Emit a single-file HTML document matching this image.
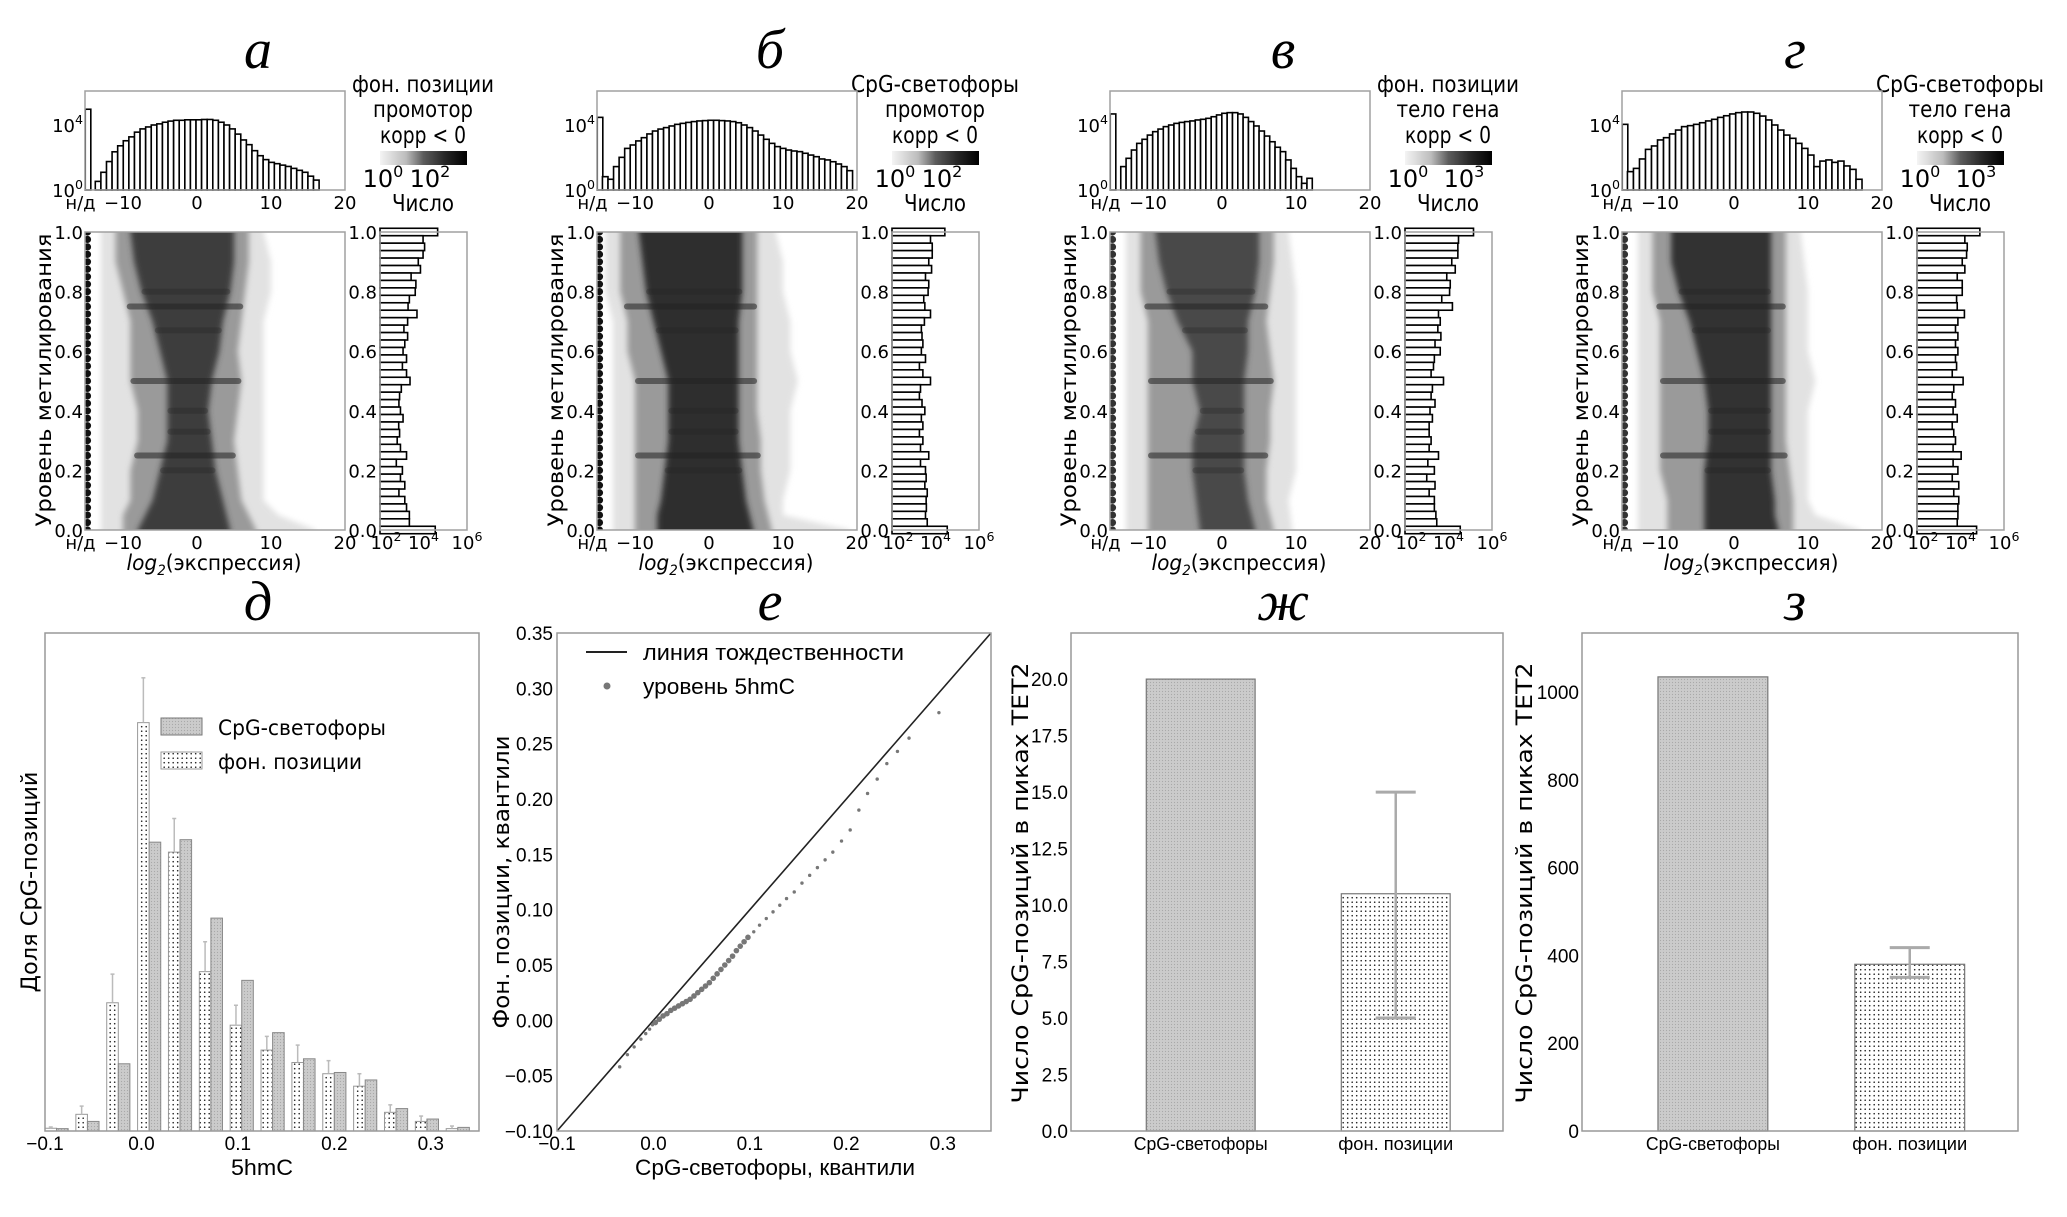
<!DOCTYPE html>
<html><head><meta charset="utf-8">
<style>
html,body{margin:0;padding:0;background:#fff;}
svg{display:block;}
.dj{font-family:"DejaVu Sans","Liberation Sans",sans-serif;}
.nr{font-family:"Liberation Sans Narrow","Liberation Sans",sans-serif;font-stretch:condensed;}
.ttl{font-family:"Liberation Serif",serif;font-style:italic;font-size:56px;}
</style></head>
<body>
<svg id="fig" width="2067" height="1217" viewBox="0 0 2067 1217" xmlns="http://www.w3.org/2000/svg">
<defs>
<filter id="blur" x="-10%" y="-10%" width="120%" height="120%"><feGaussianBlur stdDeviation="3"/></filter>
<linearGradient id="cmap" x1="0" x2="1" y1="0" y2="0">
<stop offset="0" stop-color="#f4f4f4"/><stop offset="0.3" stop-color="#bcbcbc"/><stop offset="0.5" stop-color="#5c5c5c"/><stop offset="0.75" stop-color="#262626"/><stop offset="1" stop-color="#000"/>
</linearGradient>
<pattern id="dots" width="4.5" height="4.5" patternUnits="userSpaceOnUse"><rect width="4.5" height="4.5" fill="#fff"/><circle cx="2.2" cy="2.2" r="0.8" fill="#222"/></pattern>
<pattern id="grayp" width="3" height="3" patternUnits="userSpaceOnUse"><rect width="3" height="3" fill="#cbcbcb"/><circle cx="1.5" cy="1.5" r="0.6" fill="#a8a8a8"/></pattern>
</defs>

<g>
<text class="ttl" x="258" y="68" text-anchor="middle">а</text>
<text class="dj" x="423" y="92" font-size="23" text-anchor="middle" textLength="142" lengthAdjust="spacingAndGlyphs">фон. позиции</text>
<text class="dj" x="423" y="117" font-size="23" text-anchor="middle" textLength="100" lengthAdjust="spacingAndGlyphs">промотор</text>
<text class="dj" x="423" y="143" font-size="23" text-anchor="middle" textLength="86" lengthAdjust="spacingAndGlyphs">корр &lt; 0</text>
<text class="dj" x="383" y="187" font-size="24" text-anchor="middle">10<tspan dy="-10" font-size="16">0</tspan></text>
<text class="dj" x="430" y="187" font-size="24" text-anchor="middle">10<tspan dy="-10" font-size="16">2</tspan></text>
<text class="dj" x="423" y="211" font-size="23" text-anchor="middle" textLength="62" lengthAdjust="spacingAndGlyphs">Число</text>
<text class="dj" transform="translate(51,380) rotate(-90)" font-size="21" text-anchor="middle" textLength="293" lengthAdjust="spacingAndGlyphs">Уровень метилирования</text>
<text class="dj" x="214" y="570" font-size="21" text-anchor="middle" textLength="175" lengthAdjust="spacingAndGlyphs"><tspan font-style="italic">log</tspan><tspan font-size="14" dy="5" font-style="italic">2</tspan><tspan dy="-5">(экспрессия)</tspan></text>
</g>
<g>
<text class="ttl" x="770" y="68" text-anchor="middle">б</text>
<text class="dj" x="935" y="92" font-size="23" text-anchor="middle" textLength="168" lengthAdjust="spacingAndGlyphs">CpG-светофоры</text>
<text class="dj" x="935" y="117" font-size="23" text-anchor="middle" textLength="100" lengthAdjust="spacingAndGlyphs">промотор</text>
<text class="dj" x="935" y="143" font-size="23" text-anchor="middle" textLength="86" lengthAdjust="spacingAndGlyphs">корр &lt; 0</text>
<text class="dj" x="895" y="187" font-size="24" text-anchor="middle">10<tspan dy="-10" font-size="16">0</tspan></text>
<text class="dj" x="942" y="187" font-size="24" text-anchor="middle">10<tspan dy="-10" font-size="16">2</tspan></text>
<text class="dj" x="935" y="211" font-size="23" text-anchor="middle" textLength="62" lengthAdjust="spacingAndGlyphs">Число</text>
<text class="dj" transform="translate(563,380) rotate(-90)" font-size="21" text-anchor="middle" textLength="293" lengthAdjust="spacingAndGlyphs">Уровень метилирования</text>
<text class="dj" x="726" y="570" font-size="21" text-anchor="middle" textLength="175" lengthAdjust="spacingAndGlyphs"><tspan font-style="italic">log</tspan><tspan font-size="14" dy="5" font-style="italic">2</tspan><tspan dy="-5">(экспрессия)</tspan></text>
</g>
<g>
<text class="ttl" x="1283" y="68" text-anchor="middle">в</text>
<text class="dj" x="1448" y="92" font-size="23" text-anchor="middle" textLength="142" lengthAdjust="spacingAndGlyphs">фон. позиции</text>
<text class="dj" x="1448" y="117" font-size="23" text-anchor="middle" textLength="103" lengthAdjust="spacingAndGlyphs">тело гена</text>
<text class="dj" x="1448" y="143" font-size="23" text-anchor="middle" textLength="86" lengthAdjust="spacingAndGlyphs">корр &lt; 0</text>
<text class="dj" x="1408" y="187" font-size="24" text-anchor="middle">10<tspan dy="-10" font-size="16">0</tspan></text>
<text class="dj" x="1464" y="187" font-size="24" text-anchor="middle">10<tspan dy="-10" font-size="16">3</tspan></text>
<text class="dj" x="1448" y="211" font-size="23" text-anchor="middle" textLength="62" lengthAdjust="spacingAndGlyphs">Число</text>
<text class="dj" transform="translate(1076,380) rotate(-90)" font-size="21" text-anchor="middle" textLength="293" lengthAdjust="spacingAndGlyphs">Уровень метилирования</text>
<text class="dj" x="1239" y="570" font-size="21" text-anchor="middle" textLength="175" lengthAdjust="spacingAndGlyphs"><tspan font-style="italic">log</tspan><tspan font-size="14" dy="5" font-style="italic">2</tspan><tspan dy="-5">(экспрессия)</tspan></text>
</g>
<g>
<text class="ttl" x="1795" y="68" text-anchor="middle">г</text>
<text class="dj" x="1960" y="92" font-size="23" text-anchor="middle" textLength="168" lengthAdjust="spacingAndGlyphs">CpG-светофоры</text>
<text class="dj" x="1960" y="117" font-size="23" text-anchor="middle" textLength="103" lengthAdjust="spacingAndGlyphs">тело гена</text>
<text class="dj" x="1960" y="143" font-size="23" text-anchor="middle" textLength="86" lengthAdjust="spacingAndGlyphs">корр &lt; 0</text>
<text class="dj" x="1920" y="187" font-size="24" text-anchor="middle">10<tspan dy="-10" font-size="16">0</tspan></text>
<text class="dj" x="1976" y="187" font-size="24" text-anchor="middle">10<tspan dy="-10" font-size="16">3</tspan></text>
<text class="dj" x="1960" y="211" font-size="23" text-anchor="middle" textLength="62" lengthAdjust="spacingAndGlyphs">Число</text>
<text class="dj" transform="translate(1588,380) rotate(-90)" font-size="21" text-anchor="middle" textLength="293" lengthAdjust="spacingAndGlyphs">Уровень метилирования</text>
<text class="dj" x="1751" y="570" font-size="21" text-anchor="middle" textLength="175" lengthAdjust="spacingAndGlyphs"><tspan font-style="italic">log</tspan><tspan font-size="14" dy="5" font-style="italic">2</tspan><tspan dy="-5">(экспрессия)</tspan></text>
</g>

<g>
<text class="ttl" x="258" y="620" text-anchor="middle">д</text>
<text class="ttl" x="770" y="620" text-anchor="middle">е</text>
<text class="ttl" x="1283" y="620" text-anchor="middle">ж</text>
<text class="ttl" x="1795" y="620" text-anchor="middle">з</text>
<text class="dj" transform="translate(37,882) rotate(-90)" font-size="22" text-anchor="middle" textLength="221" lengthAdjust="spacingAndGlyphs">Доля CpG-позиций</text>
<text class="nr" x="262" y="1175" font-size="22" text-anchor="middle" textLength="62" lengthAdjust="spacingAndGlyphs">5hmC</text>
<text class="dj" transform="translate(509,882) rotate(-90)" font-size="22" text-anchor="middle" textLength="293" lengthAdjust="spacingAndGlyphs">Фон. позиции, квантили</text>
<text class="nr" x="775" y="1175" font-size="22" text-anchor="middle" textLength="280" lengthAdjust="spacingAndGlyphs">CpG-светофоры, квантили</text>
<text class="dj" transform="translate(1028,883) rotate(-90)" font-size="22" text-anchor="middle" textLength="441" lengthAdjust="spacingAndGlyphs">Число CpG-позиций в пиках TET2</text>
<text class="dj" transform="translate(1532,883) rotate(-90)" font-size="22" text-anchor="middle" textLength="441" lengthAdjust="spacingAndGlyphs">Число CpG-позиций в пиках TET2</text>
<rect x="161" y="718" width="41" height="17" fill="url(#grayp)" stroke="#777"/>
<text class="dj" x="218" y="735" font-size="21" textLength="168" lengthAdjust="spacingAndGlyphs">CpG-светофоры</text>
<rect x="161" y="752" width="41" height="17" fill="url(#dots)" stroke="#999"/>
<text class="dj" x="218" y="769" font-size="21" textLength="144" lengthAdjust="spacingAndGlyphs">фон. позиции</text>
<line x1="586" y1="652" x2="627" y2="652" stroke="#222" stroke-width="2"/>
<text class="nr" x="643" y="660" font-size="22" textLength="261" lengthAdjust="spacingAndGlyphs">линия тождественности</text>
<circle cx="607" cy="686" r="3.5" fill="#777"/>
<text class="nr" x="643" y="694" font-size="22" textLength="152" lengthAdjust="spacingAndGlyphs">уровень 5hmC</text>
</g>
<g id="marks"></g>
</svg>

<script>
const histA=[0,0.53,1.09,1.75,2.35,2.72,3.03,3.27,3.56,3.76,3.88,4.0,4.07,4.17,4.24,4.29,4.29,4.32,4.32,4.32,4.34,4.34,4.29,4.17,4.0,3.76,3.44,3.08,2.79,2.42,2.11,1.87,1.70,1.62,1.53,1.45,1.33,1.21,1.09,0.85,0.61];
const histB=[0.82,0.66,1.44,2.01,2.56,2.77,3.02,3.22,3.45,3.63,3.75,3.84,3.94,4.04,4.10,4.16,4.21,4.25,4.27,4.29,4.29,4.27,4.25,4.21,4.14,4.0,3.84,3.63,3.38,3.12,2.87,2.67,2.56,2.46,2.40,2.36,2.26,2.15,2.05,1.91,1.85,1.74,1.6,1.44,1.19];
const histC=[0,1.44,1.95,2.46,2.87,3.12,3.38,3.59,3.75,3.90,4.0,4.10,4.16,4.21,4.25,4.31,4.35,4.41,4.51,4.62,4.72,4.76,4.76,4.68,4.47,4.21,3.94,3.63,3.32,2.97,2.63,2.36,1.85,1.33,0.82,0.41,0.72];
const histG=[1.13,1.33,1.91,2.50,2.71,3.08,3.22,3.45,3.69,3.90,3.96,4.04,4.14,4.25,4.35,4.47,4.57,4.68,4.76,4.80,4.80,4.72,4.55,4.31,4.0,3.69,3.38,3.18,2.87,2.56,2.15,1.44,1.78,1.85,1.70,1.78,1.48,1.27,0.66];
const histRangeA=[-14.5,16.5], histRangeB=[-14.4,19.4], histRangeC=[-14.4,12.2], histRangeG=[-14.4,17.3];
const ndTop=[4.97,4.47,4.68,4.04];
const rightA=[4.65,3.98,4.05,3.98,3.76,3.86,3.43,3.65,3.62,3.35,3.29,3.70,3.27,3.10,3.27,3.14,3.06,3.22,3.03,3.22,3.38,2.98,2.90,2.87,2.94,3.06,2.86,2.90,2.79,2.94,3.22,2.75,3.03,2.94,3.14,2.87,3.14,3.22,3.35,3.35,4.54];
const rightB=[4.43,3.77,3.85,3.85,3.69,3.82,3.54,3.69,3.66,3.46,3.51,3.77,3.49,3.35,3.38,3.42,3.35,3.54,3.26,3.42,3.77,3.31,3.26,3.38,3.51,3.35,3.42,3.26,3.42,3.31,3.69,3.31,3.54,3.57,3.51,3.62,3.57,3.58,3.54,3.62,4.54];
const rightC=[5.15,4.46,4.43,4.43,4.15,4.31,3.92,4.08,4.05,3.69,4.18,3.54,3.62,3.51,3.65,3.38,3.62,3.35,3.31,3.20,3.77,3.26,3.20,3.38,3.15,3.26,3.11,3.11,3.20,3.11,3.54,3.05,3.35,3.00,3.38,3.11,3.35,3.35,3.42,3.46,4.54];
const rightG=[4.89,4.20,4.31,4.28,4.08,4.20,3.85,4.08,4.08,3.82,3.85,4.18,3.88,3.77,3.88,3.77,3.88,3.77,3.82,3.62,4.12,3.69,3.62,3.77,3.66,3.85,3.62,3.69,3.77,3.66,4.03,3.66,3.88,3.62,3.92,3.69,3.92,3.88,3.88,3.85,4.74];
const profA=[[0,-13,-10,-8,4.5,8,16],[0.05,-13,-10,-7,4,7,11],[0.1,-13,-9,-6,3.5,6,9],[0.2,-13,-9,-5,2.5,5.5,9],[0.3,-13,-8,-4,2,5,9],[0.4,-13,-8,-4,1.5,5.5,9],[0.5,-13,-9,-4,2,6,9],[0.6,-13,-9,-5,3,5.5,9],[0.7,-13,-9,-6,3.5,6,9],[0.8,-13,-10,-7.5,4.5,6.5,10],[0.9,-13,-11,-8.5,5,7,10],[1,-13,-11,-9,5,7,9]];
const profB=[[0,-13,-10,-7,6,8.5,19],[0.05,-13,-10,-7,5.5,8,10],[0.1,-13,-10,-6.5,5,7.5,10],[0.2,-13,-10,-6,4.5,7,11],[0.3,-13,-10,-5.5,4,7,11],[0.4,-13,-10,-5.5,4,6.5,11],[0.5,-13,-10,-5.5,4,6.5,12],[0.6,-13,-11,-6.5,4,6.5,11],[0.7,-13,-11,-7.5,4,6.5,11],[0.8,-14,-12,-8.5,4.5,6.5,10],[0.9,-14,-12,-9,4.5,6.5,10],[1,-14,-12,-9.5,4.5,6.5,9]];
const profC=[[0,-13,-10,-3,4.5,7,9.5],[0.1,-13,-10,-3.5,3.5,6,9],[0.2,-13,-10,-4,3,6,10],[0.3,-13,-10,-4,3,6.5,10],[0.4,-13,-10,-3,3,6.5,10],[0.5,-13,-10,-4,3,7,10],[0.6,-13,-10,-4,3.5,6.5,10],[0.7,-13,-10,-6,3.5,6,10],[0.8,-13,-11,-7.5,4.5,6.5,10],[0.9,-13,-11,-8.5,5,7,9.5],[1,-13,-11,-9,5,7,9]];
const profG=[[0,-13,-9,-4,6,8,17],[0.05,-13,-9,-4,5.5,8,11],[0.1,-13,-9,-4,5.5,8,10],[0.2,-13,-10,-4,5,7.5,10],[0.3,-13,-10,-3.5,5,7,10],[0.4,-13,-10,-3.5,5,7,10],[0.5,-13,-10,-4,5,7,11],[0.6,-13,-10,-5,5,7,10],[0.7,-13,-10,-6,5,7,10],[0.8,-13,-11,-7.5,5,7,10],[0.9,-13,-11,-8.5,5,7,9.5],[1,-13,-11,-8.5,5,7,9]];
const coreColor=["#3c3c3c","#2e2e2e","#484848","#333333"];
const stripeLevels=[0.2,0.25,0.33,0.4,0.5,0.67,0.75,0.8];
const xTickVals=[-10,0,10,20], xTickLabels=["−10","0","10","20"];
const mTickVals=[0,0.2,0.4,0.6,0.8,1.0], mTickLabels=["0.0","0.2","0.4","0.6","0.8","1.0"];
const rTickVals=[2,4,6];

const dBins=[-0.1,-0.068,-0.036,-0.004,0.028,0.06,0.092,0.124,0.156,0.188,0.22,0.252,0.284,0.316];
const dBg=[0.22,1.34,10.3,32.8,22.4,12.8,8.5,6.5,5.5,4.6,3.6,1.5,0.77,0.19];
const dCpg=[0.19,0.77,5.4,23.2,23.4,17.1,12.1,7.9,5.8,4.7,4.1,1.8,0.96,0.29];
const dBgErr=[0.32,2.0,12.6,36.4,25.1,15.2,10.1,7.6,6.9,5.65,4.6,2.1,1.2,0.4];
const dTicks=[-0.1,0,0.1,0.2,0.3], dTickLabels=["−0.1","0.0","0.1","0.2","0.3"];
const qX=[-0.035,-0.027,-0.02,-0.013,-0.008,-0.004,-0.001,0.002,0.006,0.010,0.014,0.018,0.022,0.026,0.030,0.034,0.038,0.042,0.046,0.050,0.054,0.058,0.062,0.066,0.070,0.074,0.078,0.082,0.086,0.090,0.094,0.098,0.104,0.110,0.117,0.124,0.131,0.138,0.146,0.154,0.162,0.170,0.178,0.186,0.195,0.204,0.213,0.222,0.232,0.242,0.253,0.265,0.296];
const qY=[-0.042,-0.031,-0.024,-0.017,-0.012,-0.008,-0.004,-0.002,0.001,0.004,0.006,0.009,0.011,0.013,0.015,0.017,0.019,0.022,0.025,0.028,0.031,0.034,0.038,0.042,0.046,0.050,0.054,0.058,0.063,0.067,0.071,0.075,0.080,0.086,0.092,0.098,0.104,0.110,0.116,0.124,0.131,0.138,0.145,0.152,0.162,0.172,0.190,0.205,0.218,0.232,0.243,0.255,0.278];
const eTicks=[-0.1,-0.05,0,0.05,0.1,0.15,0.2,0.25,0.3,0.35], eTickLabels=["−0.10","−0.05","0.00","0.05","0.10","0.15","0.20","0.25","0.30","0.35"];
const eXTicks=[-0.1,0,0.1,0.2,0.3], eXTickLabels=["−0.1","0.0","0.1","0.2","0.3"];
const categories=["CpG-светофоры","фон. позиции"];
const zhValues=[20,10.5], zhErrLo=[null,5], zhErrHi=[null,15];
const zhTicks=[0,2.5,5,7.5,10,12.5,15,17.5,20], zhTickLabels=["0.0","2.5","5.0","7.5","10.0","12.5","15.0","17.5","20.0"];
const zValues=[1035,380], zErrLo=[null,350], zErrHi=[null,418];
const zTicks=[0,200,400,600,800,1000], zTickLabels=["0","200","400","600","800","1000"];

const NS="http://www.w3.org/2000/svg";
const root=document.getElementById('marks');
function el(tag,attrs,parent){const e=document.createElementNS(NS,tag);for(const k in attrs)e.setAttribute(k,attrs[k]);(parent||root).appendChild(e);return e;}
function txt(s,x,y,size,anchor,cls,parent){const t=el('text',{x:x,y:y,'font-size':size,'text-anchor':anchor,'class':cls},parent);t.textContent=s;return t;}
function sup(base,exp,x,y,size,anchor,parent){const t=el('text',{x:x,y:y,'font-size':size,'text-anchor':anchor,'class':'dj'},parent);t.appendChild(document.createTextNode(base));const s=el('tspan',{dy:-8,'font-size':size*0.7},t);s.textContent=exp;return t;}

const panels=[
 {dx:0,hist:histA,range:histRangeA,right:rightA,prof:profA},
 {dx:512,hist:histB,range:histRangeB,right:rightB,prof:profB},
 {dx:1025,hist:histC,range:histRangeC,right:rightC,prof:profC},
 {dx:1537,hist:histG,range:histRangeG,right:rightG,prof:profG}];
const ND=-14.8;
panels.forEach((p,pi)=>{
 const dx=p.dx;
 const xh=v=>dx+197+v*7.4;
 const yt=l=>190-l*16.25;
 const yh=m=>530-m*298;
 const xr=l=>dx+380+(l-2)*21.75;
 const g=el('g',{});
 
 
 const th=el('g',{},g);
 
 
 const nd=el('rect',{x:xh(-15.1),y:yt(ndTop[pi]),width:xh(-14.35)-xh(-15.1),height:yt(0)-yt(ndTop[pi]),fill:'#fff',stroke:'#000','stroke-width':1.6},th);
 
 
 const w=(p.range[1]-p.range[0])/p.hist.length;
 p.hist.forEach((v,i)=>{ if(v<=0) return;
  const x0=p.range[0]+i*w;
  const r=el('rect',{x:xh(x0),y:yt(v),width:xh(x0+w)-xh(x0),height:yt(0)-yt(v),fill:'#fff',stroke:'#000','stroke-width':1.6},th);
  
  
 });
 const tb=el('rect',{x:dx+85,y:91,width:260,height:99,fill:'none',stroke:'#a0a0a0','stroke-width':1.5},g);
 
 
 [[0,"0"],[4,"4"]].forEach(t=>{const s=sup("10",t[1],dx+83,yt(t[0])+7,18,'end',g);});
 const na1=txt("н/д",xh(ND)-7,209,18,'middle','dj',g);
 
 
 xTickVals.forEach((v,i)=>{const t=txt(xTickLabels[i],xh(v),209,18,'middle','dj',g);});
 const hb=el('g',{'clip-path':'url(#clip'+pi+')'},g);
 
 
 const cp=el('clipPath',{id:'clip'+pi},g);
 el('rect',{x:dx+85,y:232,width:260,height:298},cp);
 function band(li,ri,fill,opac){
  let pts=p.prof.map(r=>xh(r[li]).toFixed(1)+','+yh(r[0]).toFixed(1));
  pts=pts.concat(p.prof.slice().reverse().map(r=>xh(r[ri]).toFixed(1)+','+yh(r[0]).toFixed(1)));
  const first=p.prof[0], last=p.prof[p.prof.length-1];
  pts=[xh(first[li])+','+(yh(0)+8)].concat(pts.slice(0,p.prof.length)).concat([xh(last[li])+','+(yh(1)-8),xh(last[ri])+','+(yh(1)-8)]).concat(pts.slice(p.prof.length)).concat([xh(first[ri])+','+(yh(0)+8)]);
  return el('polygon',{points:pts.join(' '),fill:fill,opacity:opac,filter:'url(#blur)'},hb);
 }
 const b1=band(1,6,'#e2e2e2',1);  
 const b2=band(2,5,'#9a9a9a',1);  
 const b3=band(3,4,coreColor[pi],1);  
 function interp(m,k){for(let i=0;i<p.prof.length-1;i++){const a=p.prof[i],b=p.prof[i+1];if(m>=a[0]&&m<=b[0]){const t=(m-a[0])/(b[0]-a[0]);return a[k]+t*(b[k]-a[k]);}}return p.prof[p.prof.length-1][k];}
 stripeLevels.forEach(m=>{
  const major=(m===0.25||m===0.5||m===0.75);
  const x1=xh(interp(m,major?2:3)), x2=xh(interp(m,major?5:4));
  const s=el('rect',{x:x1,y:yh(m)-3,width:x2-x1,height:6,fill:'#222',opacity:major?0.55:0.3,rx:3},hb);
  
  
 });
 for(let k=0;k<=40;k++){
  const c=el('circle',{cx:xh(ND),cy:yh(k/40),r:3.6,fill:pi<2?'#111':'#333'},hb);
  
  
 }
 const hf=el('rect',{x:dx+85,y:232,width:260,height:298,fill:'none',stroke:'#a0a0a0','stroke-width':1.5},g);
 
 
 mTickVals.forEach((v,i)=>{const t=txt(mTickLabels[i],dx+83,yh(v)+7,18,'end','dj',g);});
 const na2=txt("н/д",xh(ND)-7,549,18,'middle','dj',g);
 
 
 xTickVals.forEach((v,i)=>{const t=txt(xTickLabels[i],xh(v),549,18,'middle','dj',g);});
 const rh=el('g',{},g);
 
 
 const n=p.right.length-1;
 p.right.forEach((v,i)=>{
  const m=1-i/n; const y0=Math.max(yh(m+0.5/n),yh(1)-4), y1=Math.min(yh(m-0.5/n),yh(0)+4);
  const r=el('rect',{x:xr(2),y:y0,width:xr(v)-xr(2),height:y1-y0,fill:'#fff',stroke:'#000','stroke-width':1.6},rh);
  
  
 });
 const rf=el('rect',{x:dx+380,y:232,width:87,height:298,fill:'none',stroke:'#a0a0a0','stroke-width':1.5},g);
 
 
 mTickVals.forEach((v,i)=>{const t=txt(mTickLabels[i],dx+377,yh(v)+7,18,'end','dj',g);});
 rTickVals.forEach(v=>{const s=sup("10",String(v),xr(v)+(v===2?6:0),549,18,'middle',g);});
 const cb=el('rect',{x:dx+380,y:151,width:87,height:14,fill:'url(#cmap)'},g);
 
 
});

(function(){
 const xd=v=>45+(v+0.1)/0.45*434;
 const yd=v=>1131-v/40*498;
 const g=el('g',{});
 
 
 const bw=0.012;
 dBins.forEach((b,i)=>{
  const r1=el('rect',{x:xd(b),y:yd(dBg[i]),width:xd(b+bw)-xd(b),height:yd(0)-yd(dBg[i]),fill:'url(#dots)',stroke:'#999','stroke-width':1},g);
  
  
  const r2=el('rect',{x:xd(b+bw),y:yd(dCpg[i]),width:xd(b+2*bw)-xd(b+bw),height:yd(0)-yd(dCpg[i]),fill:'url(#grayp)',stroke:'#888','stroke-width':1},g);
  
  
  const cx=xd(b+bw/2);
  const e=el('line',{x1:cx,x2:cx,y1:yd(dBg[i]),y2:yd(dBgErr[i]),stroke:'#bbb','stroke-width':1.5},g);
  
  
  const c=el('line',{x1:cx-2,x2:cx+2,y1:yd(dBgErr[i]),y2:yd(dBgErr[i]),stroke:'#bbb','stroke-width':1.5},g);
  
  
 });
 const f=el('rect',{x:45,y:633,width:434,height:498,fill:'none',stroke:'#999','stroke-width':1.5},g);
 
 
 dTicks.forEach((v,i)=>{const t=txt(dTickLabels[i],xd(v),1150,19,'middle','nr',g);});
})();

(function(){
 const xe=v=>557+(v+0.1)/0.45*434;
 const ye=v=>1131-(v+0.1)/0.45*498;
 const g=el('g',{});
 
 
 const idl=el('line',{x1:xe(-0.1),y1:ye(-0.1),x2:xe(0.35),y2:ye(0.35),stroke:'#222','stroke-width':1.6},g);
 
 
 qX.forEach((x,i)=>{
  const c=el('circle',{cx:xe(x),cy:ye(qY[i]),r:(x>0&&x<0.1)?2.8:1.7,fill:'#777'},g);
  
  
 });
 const f=el('rect',{x:557,y:633,width:434,height:498,fill:'none',stroke:'#999','stroke-width':1.5},g);
 
 
 eTicks.forEach((v,i)=>{const t=txt(eTickLabels[i],553,ye(v)+7,19,'end','nr',g);});
 eXTicks.forEach((v,i)=>{const t=txt(eXTickLabels[i],xe(v),1150,19,'middle','nr',g);});
})();

function barPanel(x0,x1,ymax,vals,lo,hi,ticks,tickLabels,name){
 const xb=v=>x0+(v+0.665)/2.215*(x1-x0);
 const yb=v=>1131-v/ymax*498;
 const g=el('g',{});
 
 
 vals.forEach((v,i)=>{
  const r=el('rect',{x:xb(i-0.279),y:yb(v),width:xb(0.279)-xb(-0.279),height:yb(0)-yb(v),fill:i===0?'url(#grayp)':'url(#dots)',stroke:'#777','stroke-width':1.2},g);
  
  
  if(lo[i]!==null){
   const cx=xb(i);
   const e=el('line',{x1:cx,x2:cx,y1:yb(lo[i]),y2:yb(hi[i]),stroke:'#aaa','stroke-width':2.5},g);
   
   
   [lo[i],hi[i]].forEach(vv=>{const c=el('line',{x1:cx-20,x2:cx+20,y1:yb(vv),y2:yb(vv),stroke:'#aaa','stroke-width':3},g);});
  }
  const t=txt(categories[i],xb(i),1150,18,'middle','nr',g);
  t.setAttribute('textLength',i===0?134:115);
  t.setAttribute('lengthAdjust','spacingAndGlyphs');
  
  
 });
 const f=el('rect',{x:x0,y:633,width:x1-x0,height:498,fill:'none',stroke:'#999','stroke-width':1.5},g);
 
 
 ticks.forEach((v,i)=>{const t=txt(tickLabels[i],x0-3,yb(v)+7,19,'end','nr',g);});
}
barPanel(1071,1503,22.04,zhValues,zhErrLo,zhErrHi,zhTicks,zhTickLabels,'panel-zh-bars');
barPanel(1582,2018,1135,zValues,zErrLo,zErrHi,zTicks,zTickLabels,'panel-z-bars');
</script>
</body></html>
